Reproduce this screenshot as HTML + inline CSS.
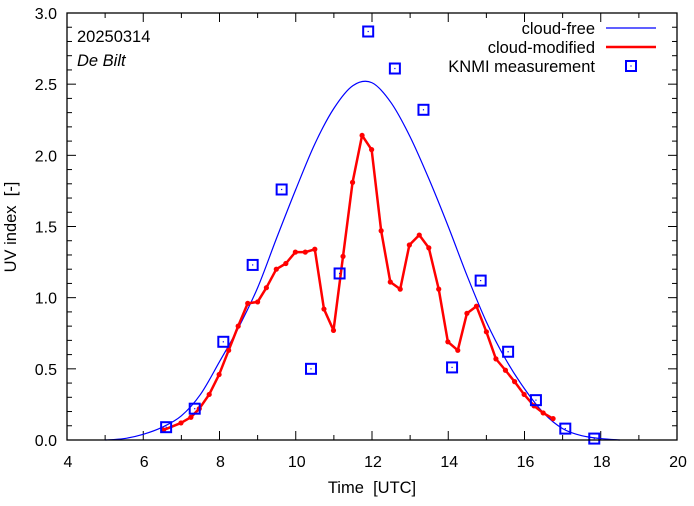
<!DOCTYPE html>
<html><head><meta charset="utf-8"><style>
body{margin:0;background:#fff}
svg text{font-family:"Liberation Sans",sans-serif;fill:#000}
</style></head><body>
<svg id="chart" width="694" height="501" xmlns="http://www.w3.org/2000/svg"></svg>
<script>
const xTicks=[4,6,8,10,12,14,16,18,20];
const yTicks=[0,0.5,1.0,1.5,2.0,2.5,3.0];
const yTickLabels=["0.0","0.5","1.0","1.5","2.0","2.5","3.0"];
const clearTimes=[5,5.5,6,6.5,7,7.5,8,8.5,9,9.5,10,10.5,11,11.5,12,12.5,13,13.5,14,14.5,15,15.5,16,16.5,17,17.5,18,18.5];
const clearValues=[0,0.01,0.04,0.09,0.17,0.32,0.55,0.79,1.07,1.42,1.76,2.08,2.33,2.49,2.51,2.37,2.13,1.83,1.50,1.15,0.83,0.57,0.36,0.19,0.08,0.03,0.01,0];
const cloudTimes=[6.53,6.99,7.25,7.47,7.73,7.99,8.24,8.49,8.74,9.0,9.23,9.49,9.74,9.99,10.25,10.5,10.74,10.99,11.24,11.49,11.74,11.99,12.24,12.48,12.74,12.98,13.24,13.49,13.75,13.99,14.25,14.49,14.74,15.0,15.25,15.5,15.74,15.99,16.25,16.49,16.75];
const cloudValues=[0.07,0.12,0.16,0.22,0.32,0.46,0.63,0.80,0.96,0.97,1.07,1.20,1.24,1.32,1.32,1.34,0.92,0.77,1.29,1.81,2.14,2.04,1.47,1.11,1.06,1.37,1.44,1.35,1.06,0.69,0.63,0.89,0.94,0.76,0.57,0.49,0.41,0.32,0.24,0.19,0.15];
const measTimes=[6.6,7.35,8.1,8.87,9.63,10.4,11.15,11.9,12.6,13.35,14.1,14.85,15.57,16.3,17.07,17.83];
const measValues=[0.09,0.22,0.69,1.23,1.76,0.50,1.17,2.87,2.61,2.32,0.51,1.12,0.62,0.28,0.08,0.01];

const L=67,R=677,T=13,B=440;
const X=v=>L+(v-4)/16*(R-L);
const Y=v=>B-v/3*(B-T);
const svg=document.getElementById('chart');
const NS='http://www.w3.org/2000/svg';
function mk(tag,attrs,parent){const e=document.createElementNS(NS,tag);for(const k in attrs)e.setAttribute(k,attrs[k]);(parent||svg).appendChild(e);return e;}

for(let v=4;v<=20;v+=1){const major=v%2===0;const len=major?9:5;
 const t1=mk('line',{x1:X(v),x2:X(v),y1:B,y2:B-len,stroke:'#000'});
 
 const t2=mk('line',{x1:X(v),x2:X(v),y1:T,y2:T+len,stroke:'#000'});
 }
for(let i=0;i<=30;i++){const v=i/10;const major=i%5===0;const len=major?9:5;
 const t1=mk('line',{x1:L,x2:L+len,y1:Y(v),y2:Y(v),stroke:'#000'});
 
 const t2=mk('line',{x1:R,x2:R-len,y1:Y(v),y2:Y(v),stroke:'#000'});
 }
xTicks.forEach(v=>{const t=mk('text',{x:X(v)+1,y:467,'text-anchor':'middle','font-size':16});t.textContent=v;
 });
yTicks.forEach((v,i)=>{const t=mk('text',{x:57,y:Y(v)+6,'text-anchor':'end','font-size':16});t.textContent=yTickLabels[i];
 });

const cp=clearTimes.map((t,i)=>[X(t),Y(clearValues[i])]);
let d='M'+cp[0][0]+','+cp[0][1];
for(let i=0;i<cp.length-1;i++){const p0=cp[Math.max(0,i-1)],p1=cp[i],p2=cp[i+1],p3=cp[Math.min(cp.length-1,i+2)];
 d+=' C'+(p1[0]+(p2[0]-p0[0])/6)+','+(p1[1]+(p2[1]-p0[1])/6)+' '+(p2[0]-(p3[0]-p1[0])/6)+','+(p2[1]-(p3[1]-p1[1])/6)+' '+p2[0]+','+p2[1];}
const cf=mk('path',{d:d,fill:'none',stroke:'#0000ff','stroke-width':1.2});


const cm=mk('polyline',{points:cloudTimes.map((t,i)=>X(t)+','+Y(cloudValues[i])).join(' '),fill:'none',stroke:'#ff0000','stroke-width':2.5,'stroke-linejoin':'round'});

cloudTimes.forEach((t,i)=>{const c=mk('circle',{cx:X(t),cy:Y(cloudValues[i]),r:2.6,fill:'#ff0000'});
 });

measTimes.forEach((t,i)=>{const g=mk('g',{});
 
 mk('rect',{x:X(t)-5,y:Y(measValues[i])-5,width:10,height:10,fill:'none',stroke:'#0000ff','stroke-width':2},g);
 mk('rect',{x:X(t)-0.6,y:Y(measValues[i])-0.6,width:1.2,height:1.2,fill:'#0000ff'},g);});

const fr=mk('rect',{x:L,y:T,width:R-L,height:B-T,fill:'none',stroke:'#000','stroke-width':1.3});


let t=mk('text',{x:372,y:493,'text-anchor':'middle','font-size':16.5});t.textContent='Time\u00a0\u00a0[UTC]';

t=mk('text',{x:0,y:0,'text-anchor':'middle','font-size':16.5,transform:'translate(16,227) rotate(-90)'});t.textContent='UV index\u00a0\u00a0[-]';

t=mk('text',{x:77,y:42,'font-size':16.5});t.textContent='20250314';

t=mk('text',{x:77,y:66,'font-size':16.5,'font-style':'italic'});t.textContent='De Bilt';


const lg=mk('g',{});
const labs=['cloud-free','cloud-modified','KNMI measurement'];
labs.forEach((s,i)=>{const y=28+i*19;
 const e=mk('text',{x:595,y:y+6,'text-anchor':'end','font-size':16.5},lg);e.textContent=s;
 
 if(i===0)mk('line',{x1:606,x2:656,y1:y,y2:y,stroke:'#0000ff','stroke-width':1.2},lg);
 if(i===1)mk('line',{x1:606,x2:656,y1:y,y2:y,stroke:'#ff0000','stroke-width':2.5},lg);
 if(i===2){mk('rect',{x:626,y:y-5,width:10,height:10,fill:'none',stroke:'#0000ff','stroke-width':2},lg);
  mk('rect',{x:630.4,y:y-0.6,width:1.2,height:1.2,fill:'#0000ff'},lg);}
});
</script>
</body></html>
